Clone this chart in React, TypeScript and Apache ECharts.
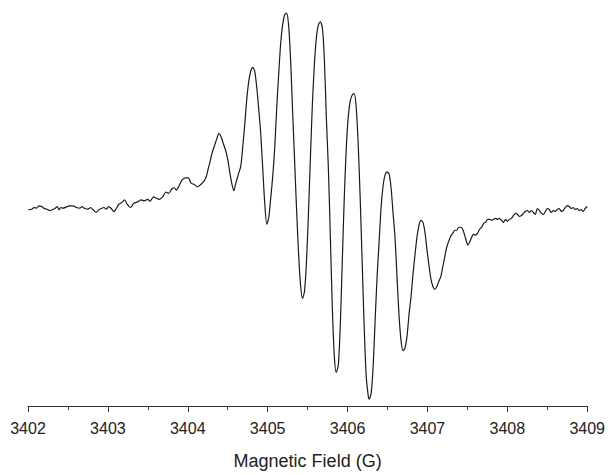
import React, { useEffect, useRef } from "react";
import * as echarts from "echarts";

// Magnetic field (G)
const field: number[] = [
  3402.004, 3402.046, 3402.078, 3402.108, 3402.137, 3402.171, 3402.203, 3402.237, 3402.274, 3402.303,
  3402.336, 3402.365, 3402.390, 3402.411, 3402.440, 3402.482, 3402.523, 3402.564, 3402.606, 3402.648,
  3402.676, 3402.710, 3402.751, 3402.785, 3402.813, 3402.856, 3402.884, 3402.918, 3402.950, 3402.980,
  3403.009, 3403.042, 3403.075, 3403.105, 3403.137, 3403.174, 3403.208, 3403.242, 3403.283, 3403.324,
  3403.374, 3403.416, 3403.457, 3403.498, 3403.528, 3403.569, 3403.603, 3403.644, 3403.685, 3403.727,
  3403.760, 3403.802, 3403.831, 3403.859, 3403.893, 3403.927, 3403.968, 3404.009, 3404.039, 3404.080,
  3404.121, 3404.163, 3404.204, 3404.233, 3404.258, 3404.275, 3404.304, 3404.340, 3404.365, 3404.390,
  3404.415, 3404.440, 3404.477, 3404.502, 3404.527, 3404.552, 3404.577, 3404.602, 3404.639, 3404.664,
  3404.689, 3404.714, 3404.739, 3404.764, 3404.788, 3404.814, 3404.838, 3404.863, 3404.888, 3404.913,
  3404.938, 3404.963, 3404.989, 3405.014, 3405.039, 3405.064, 3405.088, 3405.113, 3405.138, 3405.162,
  3405.187, 3405.212, 3405.237, 3405.262, 3405.287, 3405.311, 3405.336, 3405.361, 3405.386, 3405.411,
  3405.436, 3405.461, 3405.486, 3405.511, 3405.535, 3405.560, 3405.585, 3405.610, 3405.635, 3405.660,
  3405.685, 3405.710, 3405.735, 3405.760, 3405.785, 3405.809, 3405.834, 3405.859, 3405.884, 3405.909,
  3405.934, 3405.959, 3405.984, 3406.009, 3406.034, 3406.059, 3406.084, 3406.108, 3406.133, 3406.158,
  3406.183, 3406.208, 3406.233, 3406.258, 3406.271, 3406.296, 3406.321, 3406.345, 3406.370, 3406.395,
  3406.420, 3406.445, 3406.470, 3406.496, 3406.520, 3406.545, 3406.569, 3406.594, 3406.619, 3406.645,
  3406.670, 3406.695, 3406.720, 3406.745, 3406.770, 3406.795, 3406.819, 3406.844, 3406.869, 3406.894,
  3406.919, 3406.944, 3406.969, 3406.993, 3407.018, 3407.043, 3407.068, 3407.093, 3407.118, 3407.142,
  3407.167, 3407.192, 3407.217, 3407.242, 3407.267, 3407.292, 3407.318, 3407.342, 3407.367, 3407.392,
  3407.417, 3407.442, 3407.466, 3407.491, 3407.504, 3407.529, 3407.554, 3407.578, 3407.603, 3407.628,
  3407.653, 3407.679, 3407.704, 3407.728, 3407.753, 3407.778, 3407.802, 3407.827, 3407.852, 3407.878,
  3407.902, 3407.928, 3407.953, 3407.978, 3408.002, 3408.027, 3408.052, 3408.077, 3408.102, 3408.127,
  3408.152, 3408.176, 3408.201, 3408.226, 3408.251, 3408.276, 3408.301, 3408.326, 3408.351, 3408.376,
  3408.401, 3408.426, 3408.451, 3408.476, 3408.501, 3408.526, 3408.550, 3408.575, 3408.600, 3408.625,
  3408.650, 3408.675, 3408.700, 3408.725, 3408.750, 3408.775, 3408.800, 3408.825, 3408.849, 3408.874,
  3408.899, 3408.924, 3408.949, 3408.974, 3409.000,
];

// EPR signal (arbitrary units)
const signal: number[] = [
  -1.3, -0.7, 1.0, 0.3, 2.7, 2.0, 0, -0.7, -2.3, -1.3,
  0, 2.0, -1.3, 1.0, 0.3, 1.7, 2.7, 2.7, 1.0, 0.3,
  2.0, 0, -0.7, 1.0, -1.3, -4.0, -1.3, 0, 1.0, -0.7,
  2.0, 0, -3.3, 0, 4.3, 6.0, 8.7, 4.3, 1.0, 5.3,
  6.7, 8.7, 7.7, 9.3, 7.3, 11.7, 10.7, 9.3, 11.7, 16.7,
  15.3, 20.0, 21.0, 18.7, 23.3, 28.7, 31.0, 31.0, 26.0, 24.3,
  22.0, 24.3, 27.7, 32.7, 41.0, 46.0, 56, 65, 71, 76,
  73, 67, 58, 49, 36, 25, 18, 26, 36, 43,
  63, 86, 111, 129, 139, 143, 139, 123, 101, 76,
  41, 6, -16, -9, 11, 33, 61, 101, 136, 166,
  186, 196, 198, 186, 151, 101, 51, 1, -44, -77,
  -91, -84, -54, -4, 51, 106, 146, 173, 186, 189,
  183, 151, 91, 41, -29, -99, -149, -166, -159, -119,
  -54, 11, 61, 93, 109, 115, 116, 103, 66, 11,
  -54, -119, -169, -189, -193, -187, -159, -114, -69, -34,
  1, 23, 34, 37, 35, 21, -4, -29, -69, -109,
  -134, -144, -141, -129, -107, -89, -67, -47, -29, -17,
  -12, -14, -24, -41, -57, -71, -79, -82, -79, -74,
  -69, -59, -49, -39, -33, -28, -25, -22, -22, -19,
  -19, -21, -27, -34, -37, -34, -29, -26, -27, -25,
  -21, -19, -15, -14, -11, -11, -12, -11, -10, -11,
  -10, -12, -14, -11, -13, -11, -10, -7, -5, -6,
  -8, -7, -5, -3, -2, -4, -2, -4, -6, 0,
  -2, -5, -6, -3, 0, -1, -4, -2, -3, -1,
  0, -3, -2, 1, 3, 2, 0, 1, -1, 0,
  -2, -1, -3, 0, 2,
];

const xTickLabels: string[] = ["3402", "3403", "3404", "3405", "3406", "3407", "3408", "3409"];
const xTitle = "Magnetic Field (G)";

export default function App() {
  const ref = useRef<HTMLDivElement>(null);
  useEffect(() => {
    document.body.style.margin = "0";
    if (!ref.current) return;
    const chart = echarts.init(ref.current, null, { renderer: "svg" });
    const pts = field.map((x, i) => [x, signal[i]]);
    chart.setOption({
      animation: false,
      backgroundColor: "#ffffff",
      grid: { left: 28, right: 18, top: 11, bottom: 64 },
      xAxis: {
        type: "value",
        min: 3402,
        max: 3409,
        interval: 1,
        name: xTitle,
        nameLocation: "middle",
        nameGap: 46,
        nameTextStyle: { fontSize: 18, color: "#222", fontFamily: "Liberation Sans, Arial, sans-serif" },
        axisLine: { show: true, onZero: false, lineStyle: { color: "#333", width: 1 } },
        axisTick: { show: true, length: 6, lineStyle: { color: "#333", width: 1 } },
        minorTick: { show: true, splitNumber: 2, length: 4, lineStyle: { color: "#333", width: 1 } },
        splitLine: { show: false },
        axisLabel: {
          fontSize: 16,
          color: "#222",
          margin: 14,
          fontFamily: "Liberation Sans, Arial, sans-serif",
          formatter: (v: number) => {
            const i = Math.round(v - 3402);
            return xTickLabels[i] ?? String(v);
          },
        },
      },
      yAxis: {
        type: "value",
        min: -200,
        max: 200,
        show: false,
        splitLine: { show: false },
      },
      series: [
        {
          type: "line",
          data: pts,
          showSymbol: false,
          smooth: 0.25,
          lineStyle: { color: "#1a1a1a", width: 1.2 },
        },
      ],
    });
    return () => chart.dispose();
  }, []);
  return <div ref={ref} style={{ width: 608, height: 475 }} />;
}
